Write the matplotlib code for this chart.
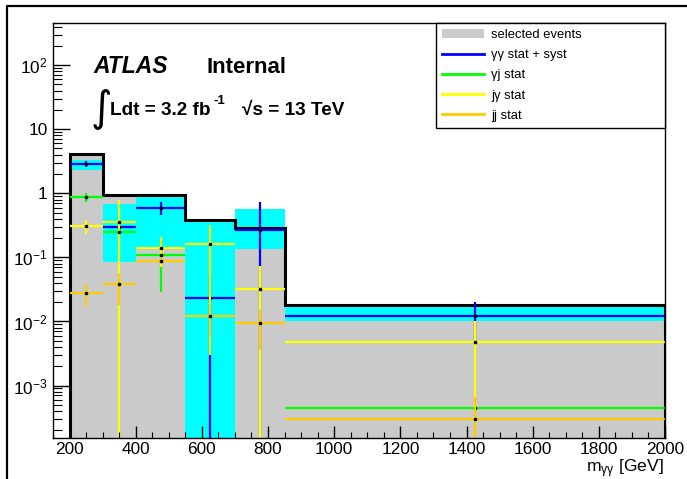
import numpy as np
import matplotlib
matplotlib.use('Agg')
import matplotlib.pyplot as plt
from matplotlib.patches import Patch
from matplotlib.lines import Line2D
from matplotlib.ticker import FixedLocator, FixedFormatter, LogLocator, MultipleLocator, NullFormatter

plt.rcParams['font.family'] = ['Liberation Sans', 'DejaVu Sans']
plt.rcParams['mathtext.fontset'] = 'custom'
plt.rcParams['mathtext.rm'] = 'Liberation Sans'
plt.rcParams['mathtext.it'] = 'Liberation Sans:italic'
plt.rcParams['mathtext.bf'] = 'Liberation Sans:bold'
plt.rcParams['mathtext.default'] = 'regular'

# m_yy binning [GeV]
edges = np.array([200, 300, 400, 550, 700, 850, 2000])
selected = np.array([4.1, 0.94, 0.94, 0.38, 0.285, 0.018])

# yy stat + syst band
band_lo = np.array([2.3, 0.085, 0.146, 0.0, 0.135, 0.0101])
band_hi = np.array([3.3, 0.68, 0.87, 0.38, 0.57, 0.0166])

gg_val = np.array([2.87, 0.30, 0.60, 0.023, 0.27, 0.0122])
gg_err = np.array([0.3, 0.05, 0.14, 0.03, 0.45, 0.0076])
gj_val = np.array([0.87, 0.25, 0.109, np.nan, np.nan, 4.4e-4])
gj_err = np.array([0.14, 0.05, 0.08, np.nan, np.nan, 2e-5])
jg_val = np.array([0.31, 0.36, 0.14, 0.16, 0.032, 0.0047])
jg_err = np.array([0.08, 0.43, 0.07, 0.157, 0.042, 0.0053])
jj_val = np.array([0.028, 0.038, 0.088, 0.0123, 0.0094, 3.0e-4])
jj_err = np.array([0.0105, 0.02, 0.01, 0.0065, 0.0058, 3.6e-4])

labels = ['selected events', 'γγ stat + syst', 'γj stat', 'jγ stat', 'jj stat']

centers = 0.5 * (edges[1:] + edges[:-1])
halfw = 0.5 * (edges[1:] - edges[:-1])

W, H = 687, 479
fig = plt.figure(figsize=(W / 100, H / 100), dpi=100)
ax = fig.add_axes([53 / W, 1 - 438 / H, 612 / W, 415 / H])
ax.set_yscale('log')
ax.set_xlim(150, 2000)
ax.set_ylim(1.52e-4, 454)

gray = '#cacaca'
ax.stairs(selected, edges, baseline=0, fill=True, color=gray, lw=0, zorder=1.0)
ax.stairs(band_hi, edges, baseline=band_lo, fill=True, color='#00ffff', lw=0, zorder=1.1)
ax.stairs(selected, edges, baseline=0, color='black', lw=2.2, zorder=1.2)

series = [(gg_val, gg_err, '#0000ff'), (gj_val, gj_err, '#00ff00'),
          (jg_val, jg_err, '#ffff00'), (jj_val, jj_err, '#ffcc00')]
for i, (v, e, c) in enumerate(series):
    ax.errorbar(centers, v, xerr=halfw, yerr=e, fmt='o', ms=1.6, mfc='black', mec='black',
                ecolor=c, elinewidth=1.6, capsize=0, zorder=1.3 + 0.1 * i)

# axes frame and ticks
for s in ax.spines.values():
    s.set_linewidth(1.0)
ax.xaxis.set_major_locator(MultipleLocator(200))
ax.xaxis.set_minor_locator(MultipleLocator(50))
ax.set_xticks(np.arange(200, 2001, 200))
ax.yaxis.set_major_locator(FixedLocator([1e-3, 1e-2, 1e-1, 1, 10, 100]))
ax.yaxis.set_major_formatter(FixedFormatter(['$10^{-3}$', '$10^{-2}$', '$10^{-1}$', '1', '10', '$10^{2}$']))
ax.yaxis.set_minor_locator(LogLocator(base=10, subs=np.arange(2, 10), numticks=20))
ax.yaxis.set_minor_formatter(NullFormatter())
ax.tick_params(axis='x', which='major', direction='in', length=8.6, width=1.0, labelsize=12.4, pad=3)
ax.tick_params(axis='x', which='minor', direction='in', length=4.3, width=0.8)
ax.tick_params(axis='y', which='major', direction='in', length=12.2, width=1.0, labelsize=12.4, pad=4)
ax.tick_params(axis='y', which='minor', direction='in', length=6.5, width=0.8)

# legend
handles = [Patch(facecolor=gray, edgecolor='none')]
handles += [Line2D([], [], color=c, lw=2) for _, _, c in series]
leg = ax.legend(handles, labels, loc='upper left', bbox_to_anchor=(383 / 612, 0, 229 / 612, 1.0),
                mode='expand', borderaxespad=0, fancybox=False, framealpha=1, edgecolor='black',
                fontsize=9.4, handlelength=3.2, handletextpad=0.6, borderpad=0.45, labelspacing=0.62)
leg.get_frame().set_linewidth(1.0)

# labels in canvas pixels
def ftext(x, y, s, **kw):
    return fig.text(x / W, 1 - y / H, s, va='baseline', **kw)

ftext(93, 73, 'ATLAS', fontsize=16.5, fontweight='bold', fontstyle='italic')
ftext(207, 73, 'Internal', fontsize=16, fontweight='bold')
ftext(91, 121, '∫', fontsize=30, family=['DejaVu Sans'])
ftext(110, 115, 'Ldt = 3.2 fb', fontsize=13.7, fontweight='bold')
ftext(213, 104, '-1', fontsize=9.5, fontweight='bold')
ftext(242, 115, '√s = 13 TeV', fontsize=13.7, fontweight='bold', family=['Liberation Sans', 'DejaVu Sans'])
ftext(664, 472, r'm$_{γγ}$ [GeV]', fontsize=12.6, ha='right')

# canvas border
fig.add_artist(Line2D([7 / W, 7 / W, 1.0], [0.0, 1 - 6 / H, 1 - 6 / H], color='black', lw=1.6,
                      transform=fig.transFigure))

fig.savefig('out.png', dpi=100)
